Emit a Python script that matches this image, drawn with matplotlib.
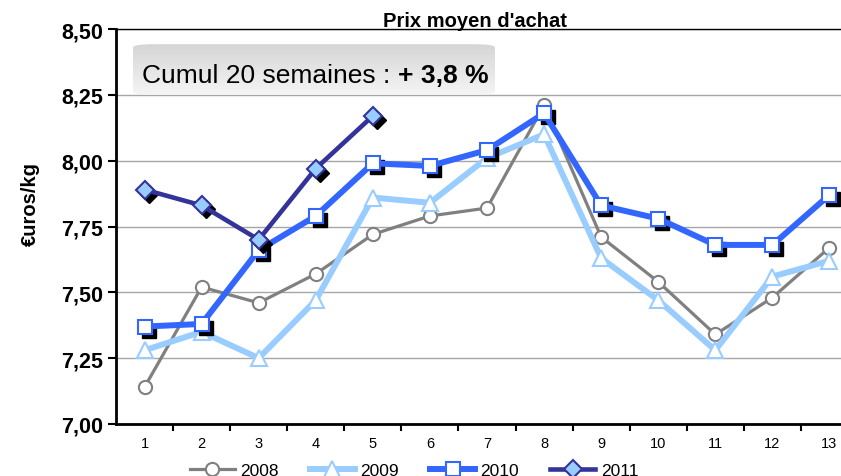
import numpy as np
import matplotlib.pyplot as plt
from matplotlib.colors import LinearSegmentedColormap
from matplotlib.patches import FancyBboxPatch
from matplotlib.transforms import offset_copy

plt.rcParams['font.family'] = ['Liberation Sans', 'DejaVu Sans']

semaines = list(range(1, 14))
prix_2008 = [7.14, 7.52, 7.46, 7.57, 7.72, 7.79, 7.82, 8.21, 7.71, 7.54, 7.34, 7.48, 7.67]
prix_2009 = [7.28, 7.35, 7.25, 7.47, 7.86, 7.84, 8.01, 8.10, 7.63, 7.47, 7.28, 7.56, 7.62]
prix_2010 = [7.37, 7.38, 7.66, 7.79, 7.99, 7.98, 8.04, 8.18, 7.83, 7.78, 7.68, 7.68, 7.87]
prix_2011 = [7.89, 7.83, 7.70, 7.97, 8.17]
yticks = [7.00, 7.25, 7.50, 7.75, 8.00, 8.25, 8.50]
ytick_labels = ["7,00", "7,25", "7,50", "7,75", "8,00", "8,25", "8,50"]

fig = plt.figure(figsize=(8.41, 4.77), dpi=100)
ax = fig.add_axes([116/841, 1-425/477, 742/841, 395/477])

# ombres des marqueurs (2010 et 2011)
shadow = offset_copy(ax.transData, fig=fig, x=4, y=-4, units='dots')
ax.plot(semaines, prix_2010, ls='none', marker='s', ms=10, color='black', transform=shadow, zorder=4)
ax.plot(semaines[:5], prix_2011, ls='none', marker='D', ms=9.5, color='black', transform=shadow, zorder=6)

ax.plot(semaines, prix_2008, color='#808080', lw=2.3, marker='o', ms=9.5,
        mfc='white', mec='#808080', mew=1.5, zorder=3, label='2008')
ax.plot(semaines, prix_2009, color='#99CCFF', lw=4.3, marker='^', ms=11,
        mfc='white', mec='#99CCFF', mew=1.5, zorder=3.5, label='2009')
ax.plot(semaines, prix_2010, color='#3366FF', lw=4.3, marker='s', ms=10,
        mfc='white', mec='#3366FF', mew=1.5, zorder=5, label='2010')
ax.plot(semaines[:5], prix_2011, color='#333399', lw=3.3, marker='D', ms=9.5,
        mfc='#99CCFF', mec='#333399', mew=1.5, zorder=7, label='2011')

ax.set_xlim(0.5, 13.5)
ax.set_ylim(7.0, 8.5)
ax.set_yticks(yticks)
ax.set_yticklabels(ytick_labels, fontsize=15.5, fontweight='bold')
ax.set_xticks(semaines)
ax.set_xticklabels([str(s) for s in semaines], fontsize=10.5)
ax.set_xticks(np.arange(1.5, 13.5, 1), minor=True)
ax.tick_params(axis='x', which='major', length=0, pad=9)
ax.tick_params(axis='x', which='minor', length=5, width=1.5, direction='out')
ax.tick_params(axis='y', length=6, width=1.5, direction='out')
ax.grid(axis='y', color='#A6A6A6', lw=1)
ax.set_axisbelow(True)
for side in ['left', 'bottom']:
    ax.spines[side].set_linewidth(2)
ax.spines['top'].set_linewidth(1)
ax.spines['right'].set_visible(False)

ax.set_ylabel("€uros/kg", fontsize=14.5, fontweight='bold')
ax.yaxis.set_label_coords((40-116)/742, (425-204)/395)

fig.text(475/841, 1-27/477, "Prix moyen d'achat", ha='center', va='baseline',
         fontsize=14.5, fontweight='bold')

# encadré "Cumul"
bx = fig.add_axes([133/841, 1-98/477, 362/841, 55/477])
bx.axis('off')
grad = np.linspace(0, 1, 100).reshape(-1, 1)
cmap = LinearSegmentedColormap.from_list('g', ['#F6F6F6', '#D4D4D4'])
img = bx.imshow(grad, cmap=cmap, aspect='auto', extent=[0, 1, 1, 0], transform=bx.transAxes)
patch = FancyBboxPatch((0.02, 0.06), 0.96, 0.88, boxstyle='round,pad=0.02,rounding_size=0.06',
                       transform=bx.transAxes, facecolor='none', edgecolor='none')
bx.add_patch(patch)
img.set_clip_path(patch)

t1 = bx.text(142/841, 1-88/477, "Cumul 20 semaines : ", ha='left', va='bottom',
             fontsize=19, transform=fig.transFigure)
bx.annotate("+ 3,8 %", xy=(1, 0), xycoords=t1, ha='left', va='bottom',
            fontsize=19, fontweight='bold')

fig.legend(loc='center', bbox_to_anchor=(414/841, 1-471/477), ncol=4, frameon=False,
           fontsize=12.5, handlelength=2.6, handletextpad=0.3, columnspacing=1.8,
           borderaxespad=0, borderpad=0)

fig.savefig('out.png', dpi=100)
